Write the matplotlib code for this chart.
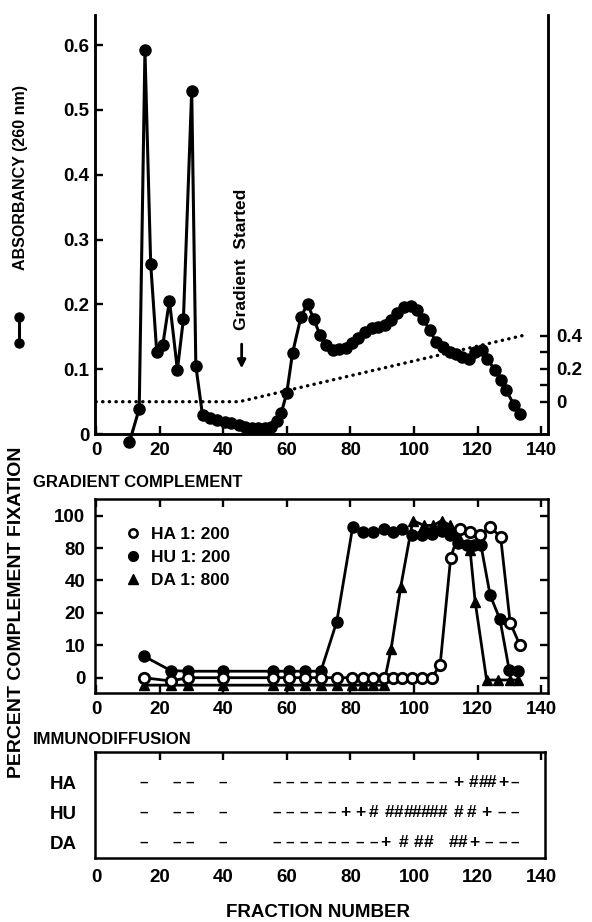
import matplotlib
matplotlib.use("Agg")
import matplotlib.pyplot as plt
from matplotlib.lines import Line2D
import numpy as np

plt.rcParams["font.family"] = ["Liberation Sans", "DejaVu Sans"]
plt.rcParams["font.weight"] = "bold"

# --- top panel: absorbancy at 260 nm per fraction
abs_frac = [10.5, 13.6, 15.4, 17.2, 19.1, 21.0, 23.1, 25.6, 27.5, 30.1, 31.4, 33.5,
            36, 38, 40.5, 42.5, 45, 47, 49, 51, 53, 55, 56.8, 58.3,
            60.0, 61.8, 64.4, 66.5, 68.4, 70.4, 72.3, 74.4, 76.5, 78.6,
            80.4, 82.5, 84.6, 86.7, 88.8, 90.9, 92.6, 94.7, 96.9, 99.0,
            100.8, 102.7, 105.0, 106.9, 109.2, 111.3, 113.2, 115.1, 117.4, 119.2,
            121.3, 123.0, 125.5, 127.3, 128.9, 131.4, 133.3]
abs_val = [-0.013, 0.039, 0.592, 0.263, 0.127, 0.137, 0.206, 0.099, 0.178, 0.530, 0.105, 0.029,
           0.024, 0.021, 0.019, 0.017, 0.014, 0.011, 0.010, 0.009, 0.009, 0.011, 0.020, 0.033,
           0.064, 0.125, 0.180, 0.201, 0.178, 0.153, 0.137, 0.130, 0.131, 0.132,
           0.140, 0.148, 0.158, 0.163, 0.165, 0.168, 0.176, 0.187, 0.196, 0.198,
           0.191, 0.178, 0.160, 0.142, 0.135, 0.127, 0.123, 0.119, 0.115, 0.127,
           0.129, 0.115, 0.099, 0.083, 0.068, 0.045, 0.031]

# salt gradient (right axis)
grad_frac = [0, 45, 134]
grad_val = [0, 0, 0.4]

# --- middle panel: percent complement fixation
ha_frac = [15, 23.5, 29, 40, 55.6, 60.7, 65.7, 70.7, 75.7, 80.4, 84.1, 87.2, 90.4, 93.5,
           96.1, 99.3, 102.4, 105.6, 108.2, 111.5, 114.5, 117.6, 120.8, 123.9, 127.2, 130.2, 133.3]
ha_val = [0, -1, 0, 0, 0, 0, 0, 0, 0, 0, 0, 0, 0, 0,
          0, 0, 0, 0, 4, 68, 92, 90, 88, 93, 87, 17, 10]

hu_frac = [15, 23.5, 29, 40, 55.6, 60.7, 65.7, 70.7, 75.7, 80.7, 84.1, 87.2, 90.4, 93.5,
           96.1, 99.3, 102.4, 105.6, 108.7, 111.3, 113.9, 116.6, 118.8, 121.0,
           123.9, 127.0, 129.9, 132.8]
hu_val = [6.7, 2.2, 2, 2, 2, 2, 2, 2, 17.3, 93, 90, 90, 92, 90,
          92, 88, 88, 89, 90.6, 88, 83, 82, 82, 82,
          31, 18, 2.4, 2.2]

da_frac = [15, 23.5, 29, 40, 55.6, 60.7, 65.7, 70.7, 75.7, 80.4, 84.1, 87.2, 90.4,
           92.8, 95.8, 99.6, 103.1, 106.1, 108.7, 111.3, 114.5, 117.6, 119.2,
           122.8, 126.5, 130.2, 132.8]
da_val = [-2.3, -2.3, -2.3, -2.3, -2.3, -2.3, -2.3, -2.3, -2.3, -2.3, -2.3, -2.3, -2.3,
          9, 36, 97, 94, 94, 97, 94, 85, 78, 27,
          -0.7, -0.7, -0.7, -0.7]

cf_ticks = [0, 10, 20, 40, 80, 100]
legend_labels = ["HA 1: 200", "HU 1: 200", "DA 1: 800"]

# --- bottom panel: immunodiffusion
early_frac = [15, 25.3, 29.6, 40]
ha_id_frac = [56.8, 61.0, 65.2, 69.7, 74.1, 78.3, 83.0, 87.2, 91.4, 96.1, 100.3, 105.0, 109.2,
              113.9, 118.7, 121.8, 124.5, 128.1, 131.8]
ha_id_mark = ["–"] * 13 + ["+", "#", "#", "#", "+", "–"]
hu_id_frac = [56.8, 61.0, 65.2, 69.7, 74.1, 78.3, 83.0, 87.2, 92.4, 95.1, 98.2, 100.8,
              103.5, 106.1, 109.0, 113.9, 118.1, 122.8, 127.6, 131.8]
hu_id_mark = ["–"] * 5 + ["+", "+"] + ["#"] * 10 + ["+", "–", "–"]
da_id_frac = [56.8, 61.0, 65.2, 69.7, 74.1, 78.3, 83.0, 87.2, 91.0, 96.6, 101.3, 104.5,
              112.5, 115.2, 118.9, 123.6, 127.8, 131.8]
da_id_mark = ["–"] * 8 + ["+", "#", "#", "#", "#", "#", "+", "–", "–", "–"]
id_rows = ["HA", "HU", "DA"]

W, H = 592, 922


def _cf_fwd(v):
    return np.interp(v, [-100, 0, 10, 20, 40, 80, 100, 200], [-10, 0, 1, 2, 3, 4, 5, 10])


def _cf_inv(p):
    return np.interp(p, [-10, 0, 1, 2, 3, 4, 5, 10], [-100, 0, 10, 20, 40, 80, 100, 200])


def _style(ax, lw=1.8):
    for s in ax.spines.values():
        s.set_linewidth(lw)
    ax.tick_params(direction="in", length=6, width=1.7, labelsize=13.5)
    for lab in ax.get_xticklabels() + ax.get_yticklabels():
        lab.set_fontweight("bold")


fig = plt.figure(figsize=(W / 100, H / 100), dpi=100)

# ---------------- top panel
ax = fig.add_axes([95 / W, 1 - 434 / H, (548 - 95) / W, (434 - 15) / H])
ax.plot(abs_frac, abs_val, "-o", color="black", lw=2.2, ms=8, clip_on=False, zorder=3)
ax.set_xlim(-0.3, 142.1)
ax.set_ylim(0, 0.6466)
ax.set_xticks(range(0, 141, 20))
ax.set_yticks([0, 0.1, 0.2, 0.3, 0.4, 0.5, 0.6])
ax.set_yticklabels(["0", "0.1", "0.2", "0.3", "0.4", "0.5", "0.6"])
ax.spines["top"].set_visible(False)
_style(ax)
ax.tick_params(right=True, pad=4)
ax.tick_params(axis="x", pad=6)

ax2 = ax.twinx()
ax2.set_ylim(-0.1955, 2.342)
ax2.plot(grad_frac, grad_val, color="black", lw=2.4, dashes=(0.1, 1.9),
         dash_capstyle="round")
ax2.set_yticks([0, 0.1, 0.2, 0.3, 0.4])
ax2.set_yticklabels(["0", "", "0.2", "", "0.4"])
ax2.spines["top"].set_visible(False)
_style(ax2)
ax2.tick_params(pad=6)

ax.text(45.8, 0.27, "Gradient  Started", rotation=90, ha="center", va="center",
        fontsize=12.5, fontweight="bold")
ax.annotate("", xy=(45.8, 0.097), xytext=(45.8, 0.143),
            arrowprops=dict(arrowstyle="-|>", lw=2, color="black", mutation_scale=12))

fig.text(20.7 / W, 1 - 177.5 / H, "ABSORBANCY (260 nm)", rotation=90, ha="center",
         va="center", fontsize=11.5, fontweight="bold")
fig.add_artist(Line2D([18.5 / W, 18.5 / W], [1 - 317 / H, 1 - 343 / H], color="black",
                      lw=2.2, marker="o", ms=6.5, transform=fig.transFigure))

# ---------------- middle panel
axm = fig.add_axes([95 / W, 1 - 693 / H, (548 - 95) / W, 194 / H])
axm.set_yscale("function", functions=(_cf_fwd, _cf_inv))
axm.plot(hu_frac, hu_val, "-o", color="black", lw=2.0, ms=8, zorder=3)
axm.plot(da_frac, da_val, "-^", color="black", lw=2.0, ms=7.5, zorder=3)
axm.plot(ha_frac, ha_val, "-o", color="black", lw=2.0, ms=7.5, mfc="white", mew=2.0,
         zorder=4)
axm.set_xlim(-0.3, 142.1)
axm.set_ylim(-4.72, 110.3)
axm.set_xticks(range(0, 141, 20))
axm.set_yticks(cf_ticks)
axm.set_yticklabels([str(t) for t in cf_ticks])
axm.yaxis.set_minor_locator(matplotlib.ticker.NullLocator())
_style(axm)
axm.tick_params(top=True, right=True)
axm.tick_params(axis="y", pad=7)
axm.tick_params(axis="x", pad=6)

handles = [
    Line2D([], [], ls="none", marker="o", ms=6, mfc="white", mec="black", mew=1.8),
    Line2D([], [], ls="none", marker="o", ms=7, color="black"),
    Line2D([], [], ls="none", marker="^", ms=7, color="black"),
]
axm.legend(handles, legend_labels, loc="upper left", bbox_to_anchor=(0.05, 0.9),
           frameon=False, borderpad=0, handlelength=0.8, handletextpad=0.6,
           labelspacing=0.45, prop=dict(size=12.5, weight="bold"))

fig.text(33 / W, 1 - 482 / H, "GRADIENT COMPLEMENT", ha="left", va="center",
         fontsize=12, fontweight="bold")
fig.text(17 / W, 1 - 612 / H, "PERCENT COMPLEMENT FIXATION", rotation=90,
         ha="center", va="center", fontsize=14, fontweight="bold")

# ---------------- bottom panel
axb = fig.add_axes([95 / W, 1 - 858 / H, (545 - 95) / W, 106 / H])
axb.set_xlim(-0.3, 141.2)
axb.set_ylim(0.5, 4.03)
row_y = [3, 2, 1]
rows = [(ha_id_frac, ha_id_mark), (hu_id_frac, hu_id_mark), (da_id_frac, da_id_mark)]
for y, (fr, mk) in zip(row_y, rows):
    for f in early_frac:
        axb.text(f, y, "–", ha="center", va="center", fontsize=11, fontweight="bold")
    for f, m in zip(fr, mk):
        axb.text(f, y, m, ha="center", va="center", fontsize=11 if m == "–" else 12.5,
                 fontweight="bold")
axb.set_xticks(range(0, 141, 20))
axb.set_yticks(row_y)
axb.set_yticklabels(id_rows)
_style(axb)
axb.tick_params(top=True, bottom=False)
axb.tick_params(axis="y", length=0, pad=13)
axb.tick_params(axis="x", pad=8)

fig.text(33 / W, 1 - 740 / H, "IMMUNODIFFUSION", ha="left", va="center",
         fontsize=12, fontweight="bold")
fig.text(318 / W, 1 - 912 / H, "FRACTION NUMBER", ha="center", va="center",
         fontsize=13.5, fontweight="bold")

fig.savefig("out.png", dpi=100)
